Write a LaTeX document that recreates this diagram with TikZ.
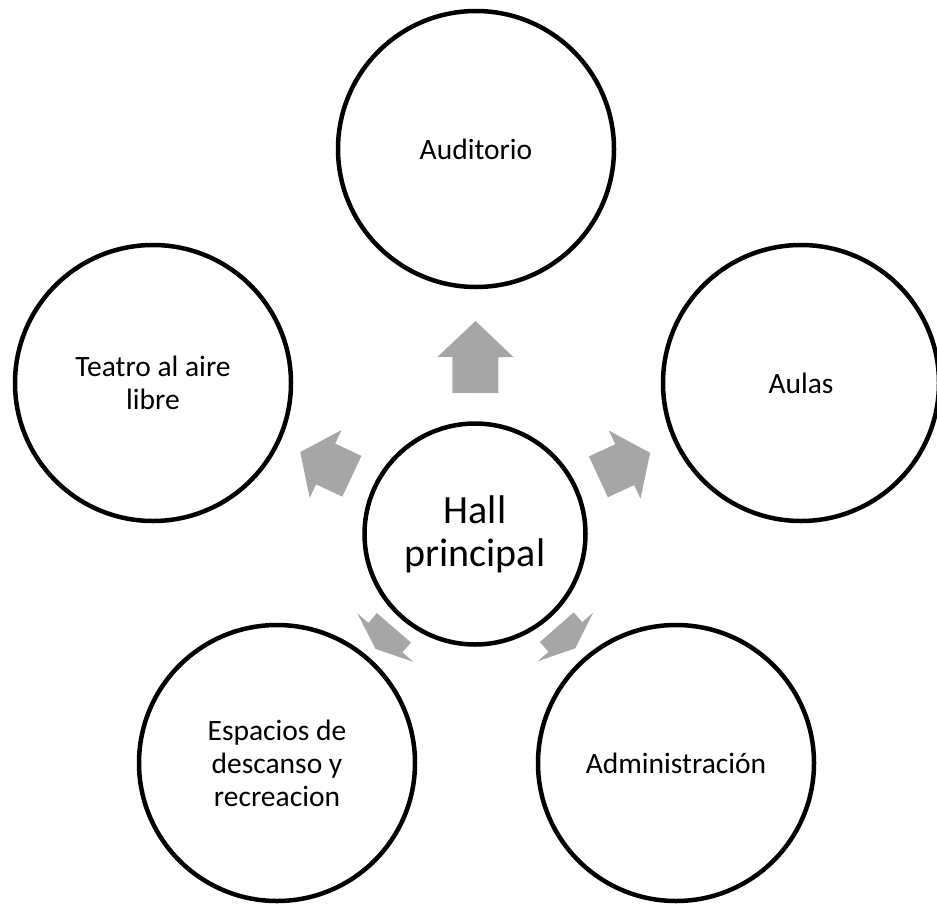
\documentclass[tikz,border=0pt]{standalone}
\usepackage{fontspec}
\setmainfont{Carlito}
\usetikzlibrary{calc}
\definecolor{arrowgray}{HTML}{A6A6A6}
\newcommand\blockarr[7]{%
  \coordinate (ba) at ($(#1.center)!#3!(#2.center)$);
  \coordinate (bj) at ($(#1.center)!#4!(#2.center)$);
  \coordinate (bt) at ($(#1.center)!#5!(#2.center)$);
  \fill[arrowgray] ($(ba)!#6!90:(#2.center)$) -- ($(bj)!#6!90:(#2.center)$) -- ($(bj)!#7!90:(#2.center)$) -- (bt) -- ($(bj)!#7!-90:(#2.center)$) -- ($(bj)!#6!-90:(#2.center)$) -- ($(ba)!#6!-90:(#2.center)$) -- cycle;
}
\begin{document}
\begin{tikzpicture}[x=1pt,y=-1pt,
  outer/.style={circle, draw=black, line width=4.5pt, minimum size=276pt, inner sep=0pt, align=center, font=\fontsize{29.5}{33}\selectfont},
  hub/.style={circle, draw=black, line width=4.5pt, minimum size=221pt, inner sep=0pt, align=center, font=\fontsize{40}{43}\selectfont}]
\useasboundingbox (0,0) rectangle (937,905);
\node[hub] (hall) at (475,534) {Hall\\principal};
\node[outer] (aud) at (476,149) {Auditorio};
\node[outer] (aul) at (801,383) {Aulas};
\node[outer] (tea) at (153,383) {Teatro al aire\\libre};
\node[outer] (esp) at (277,763) {Espacios de\\descanso y\\recreacion};
\node[outer] (adm) at (676,763) {Administración};
\blockarr{hall}{aud}{141pt}{177pt}{213pt}{23pt}{38pt}
\blockarr{hall}{aul}{136pt}{165pt}{193pt}{22.5pt}{37.5pt}
\blockarr{hall}{tea}{136pt}{165pt}{193pt}{22.5pt}{37.5pt}
\blockarr{hall}{esp}{124pt}{137pt}{152pt}{22.5pt}{37pt}
\blockarr{hall}{adm}{124pt}{137pt}{152pt}{22.5pt}{37pt}
\end{tikzpicture}
\end{document}
